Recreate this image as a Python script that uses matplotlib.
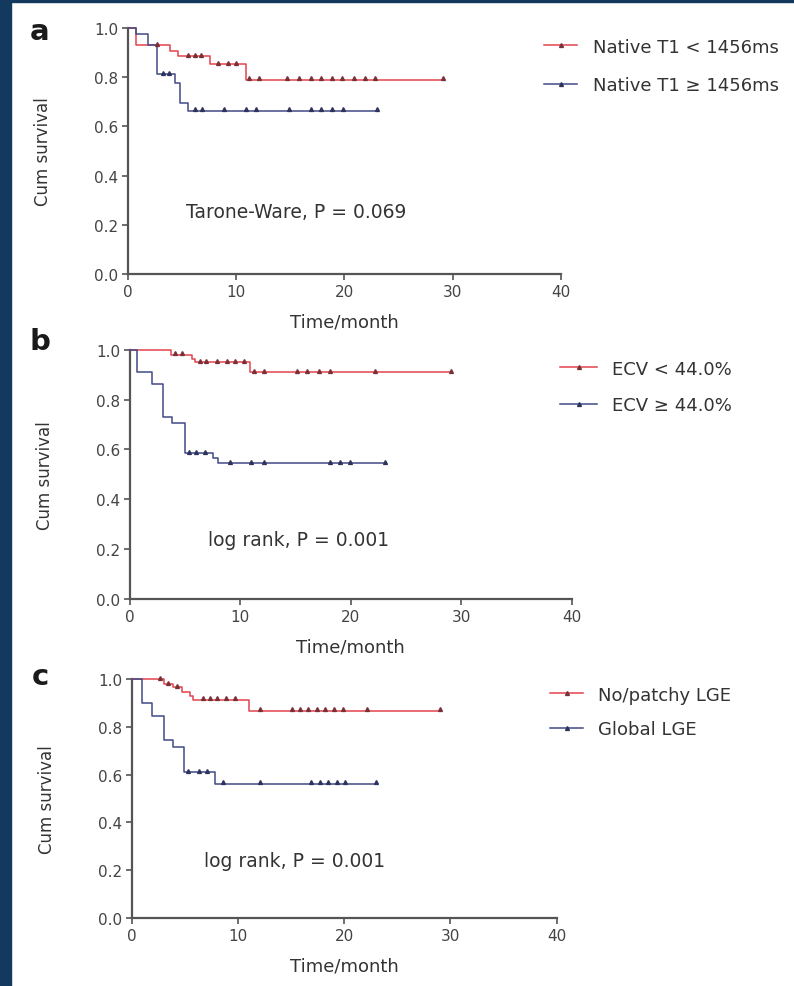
import numpy as np
import matplotlib
matplotlib.use("Agg")
import matplotlib.pyplot as plt
from matplotlib.lines import Line2D
from matplotlib.patches import Rectangle

plt.rcParams['font.family'] = ['DejaVu Sans']

# ---- Kaplan-Meier step data (event times in months, survival after each step) ----
# Panel a: native T1
a_low_t = [0, 0.8, 2.8, 3.9, 4.6, 7.6, 10.9, 29.1]
a_low_s = [1.0, 0.93, 0.93, 0.906, 0.886, 0.852, 0.79, 0.79]
a_low_cens = [2.7, 5.6, 6.2, 6.8, 8.3, 9.3, 10.0, 11.2, 12.1, 14.7, 15.8, 16.9,
              17.8, 18.9, 19.8, 20.9, 21.9, 22.8, 29.1]
a_high_t = [0, 0.8, 1.9, 2.7, 4.4, 4.8, 5.6, 23.0]
a_high_s = [1.0, 0.974, 0.93, 0.812, 0.778, 0.696, 0.663, 0.663]
a_high_cens = [3.3, 3.8, 6.2, 6.9, 8.9, 10.9, 11.8, 14.9, 16.9, 17.8, 18.9, 19.9, 23.0]

# Panel b: ECV
b_low_t = [0, 3.7, 5.6, 5.9, 10.9, 29.1]
b_low_s = [1.0, 0.98, 0.963, 0.95, 0.91, 0.91]
b_low_cens = [4.1, 4.7, 6.3, 6.9, 7.9, 8.8, 9.5, 10.3, 11.2, 12.1, 15.1, 16.0,
              17.1, 18.1, 22.2, 29.1]
b_high_t = [0, 0.6, 2.0, 3.0, 3.8, 5.0, 7.5, 8.0, 23.1]
b_high_s = [1.0, 0.91, 0.862, 0.729, 0.705, 0.585, 0.565, 0.545, 0.545]
b_high_cens = [5.3, 6.0, 6.8, 9.1, 11.0, 12.1, 18.1, 19.0, 19.9, 23.1]

# Panel c: LGE pattern
c_low_t = [0, 3.0, 3.9, 4.7, 5.5, 5.8, 11.0, 29.0]
c_low_s = [1.0, 0.979, 0.965, 0.944, 0.93, 0.913, 0.867, 0.867]
c_low_cens = [2.7, 3.4, 4.3, 6.7, 7.4, 8.0, 8.9, 9.7, 12.1, 15.1, 15.8, 16.6,
              17.4, 18.2, 19.0, 19.9, 22.1, 29.0]
c_high_t = [0, 1.0, 1.9, 3.0, 3.9, 4.9, 7.8, 23.0]
c_high_s = [1.0, 0.90, 0.846, 0.745, 0.716, 0.61, 0.561, 0.561]
c_high_cens = [5.3, 6.3, 7.1, 8.6, 12.1, 16.9, 17.7, 18.5, 19.3, 20.1, 23.0]

panel_letters = ["a", "b", "c"]
legend_labels = [
    ["Native T1 < 1456ms", "Native T1 \u2265 1456ms"],
    ["ECV < 44.0%", "ECV \u2265 44.0%"],
    ["No/patchy LGE", "Global LGE"],
]
test_texts = ["Tarone-Ware, P = 0.069", "log rank, P = 0.001", "log rank, P = 0.001"]
text_pos = [(15.6, 0.256), (15.3, 0.24), (15.3, 0.24)]

x_ticks = [0, 10, 20, 30, 40]
y_ticks = [0.0, 0.2, 0.4, 0.6, 0.8, 1.0]

RED = "#e4434d"
BLUE = "#414a85"
RED_MK = "#7a3038"
BLUE_MK = "#2e335e"
AXC = "#555555"
TXT = "#333333"

W, H = 794, 987
fig = plt.figure(figsize=(W / 100, H / 100), dpi=100)
fig.patch.set_facecolor("white")

# navy frame strips
fig.patches.append(Rectangle((0, 0), 11 / W, 1, transform=fig.transFigure,
                             color="#133a5e", zorder=0))
fig.patches.append(Rectangle((0, 1 - 3 / H), 1, 3 / H, transform=fig.transFigure,
                             color="#133a5e", zorder=0))

# axes boxes in pixels: left, right, top(y=1), bottom(y=0)
boxes = [(127.7, 561.0, 29.0, 275.0),
         (130.0, 571.7, 350.7, 600.0),
         (131.7, 556.7, 680.0, 919.0)]

# legend geometry in pixels: line start x, center y of the two rows, row pitch, line len, gap
legend_geo = [(544, 67, 38, 33, 16),
              (560, 388, 36, 37, 15),
              (550, 713, 34, 33, 15)]

letter_pos = [(40, 32), (40, 342), (40, 677)]

curves = [
    ((a_low_t, a_low_s, a_low_cens), (a_high_t, a_high_s, a_high_cens)),
    ((b_low_t, b_low_s, b_low_cens), (b_high_t, b_high_s, b_high_cens)),
    ((c_low_t, c_low_s, c_low_cens), (c_high_t, c_high_s, c_high_cens)),
]


def level_at(t, s, x):
    idx = np.searchsorted(np.asarray(t), x, side="right") - 1
    return np.asarray(s)[np.clip(idx, 0, len(s) - 1)]


for i in range(3):
    l, r, top, bot = boxes[i]
    ax = fig.add_axes([l / W, 1 - bot / H, (r - l) / W, (bot - top) / H])
    ax.set_xlim(0, 40)
    ax.set_ylim(0, 1.0)
    for sp in ["top", "right"]:
        ax.spines[sp].set_visible(False)
    for sp in ["left", "bottom"]:
        ax.spines[sp].set_color(AXC)
        ax.spines[sp].set_linewidth(1.6)
    ax.set_xticks(x_ticks)
    ax.set_yticks(y_ticks)
    ax.set_yticklabels([f"{v:.1f}" for v in y_ticks])
    ax.tick_params(axis="both", direction="out", length=4, width=1.2, color=AXC,
                   labelsize=11, labelcolor="#444444", pad=3)
    ax.set_xlabel("Time/month", fontsize=13, color=TXT, labelpad=10)
    ax.set_ylabel("Cum survival", fontsize=12, color=TXT, labelpad=30)

    handles = []
    for (t, s, cens), col, mk in zip(curves[i], [RED, BLUE], [RED_MK, BLUE_MK]):
        ax.step(t, s, where="post", color=col, lw=1.1, clip_on=False, zorder=3)
        cy = level_at(t, s, cens)
        ax.plot(cens, cy + 0.006, ls="none", marker="^", ms=2.8, color=mk,
                mec=mk, clip_on=False, zorder=4)
        handles.append(Line2D([0], [0], color=col, lw=1.1, marker="^", ms=2.8,
                              mfc=mk, mec=mk))

    ax.text(text_pos[i][0], text_pos[i][1], test_texts[i], ha="center",
            va="center", fontsize=13.5, color=TXT)

    lx, ly, pitch, llen, gap = legend_geo[i]
    fs = 13
    fpx = fs * 100 / 72
    row_h = 0.95 * fpx
    ax.legend(handles, legend_labels[i], loc="center left",
              bbox_to_anchor=(lx / W, 1 - ly / H), bbox_transform=fig.transFigure,
              frameon=False, fontsize=fs, borderpad=0, borderaxespad=0,
              handlelength=llen / fpx, handletextpad=gap / fpx,
              labelspacing=(pitch - row_h) / fpx, labelcolor=TXT, numpoints=1)

    fig.text(letter_pos[i][0] / W, 1 - letter_pos[i][1] / H, panel_letters[i],
             fontsize=21, fontweight="bold", color="#1a1a1a", ha="center",
             va="center")

fig.savefig("out.png", dpi=100, facecolor="white")
